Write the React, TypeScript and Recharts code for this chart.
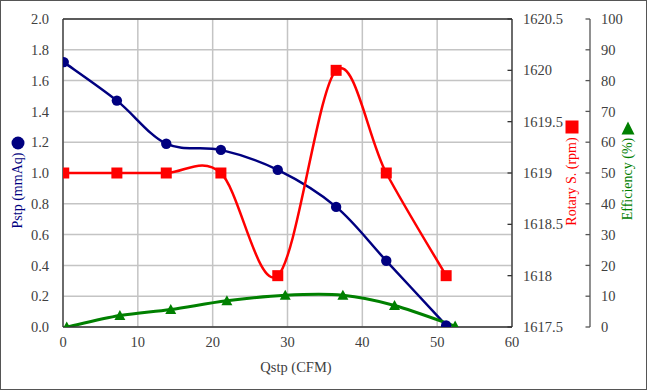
import React from 'react';
import { LineChart, Line, XAxis, YAxis, CartesianGrid, ReferenceLine } from 'recharts';

// ---- data ----
const pstpX = [0.1, 7.2, 13.8, 21.1, 28.7, 36.5, 43.2, 51.2];
const pstpY = [1.72, 1.47, 1.19, 1.15, 1.02, 0.78, 0.43, 0.01];
const rpmX = [0.1, 7.2, 13.8, 21.1, 28.7, 36.5, 43.2, 51.2];
const rpmY = [1619, 1619, 1619, 1619, 1618, 1620, 1619, 1618];
const effX = [0.5, 7.6, 14.4, 21.9, 29.7, 37.4, 44.3, 52.4];
const effY = [0, 3.7, 5.7, 8.5, 10.3, 10.3, 7.0, 0.3];

const xTicks = [0, 10, 20, 30, 40, 50, 60];
const pstpTicks = [0, 0.2, 0.4, 0.6, 0.8, 1.0, 1.2, 1.4, 1.6, 1.8, 2.0];
const rpmTicks = [1617.5, 1618, 1618.5, 1619, 1619.5, 1620, 1620.5];
const effTicks = [0, 10, 20, 30, 40, 50, 60, 70, 80, 90, 100];

const pstpData = pstpX.map((x, i) => ({ x, y: pstpY[i] }));
const rpmData = rpmX.map((x, i) => ({ x, y: rpmY[i] }));
const effData = effX.map((x, i) => ({ x, y: effY[i] }));

const NAVY = '#000080';
const RED = '#FF0000';
const GREEN = '#008000';
const FONT = 'Liberation Serif, Times New Roman, DejaVu Serif, serif';
const TICK_COLOR = '#404040';
const BORDER = '#333333';
const TXT: React.CSSProperties = { fontFamily: FONT };
const TICK_FS = 14.5;

// Excel-like smooth curve (Catmull-Rom as cubic bezier)
function smoothCurve(context: any) {
  let pts: number[][] = [];
  return {
    areaStart() {},
    areaEnd() {},
    lineStart() {
      pts = [];
    },
    lineEnd() {
      const n = pts.length;
      if (!n) return;
      context.moveTo(pts[0][0], pts[0][1]);
      for (let i = 0; i < n - 1; i++) {
        const p0 = pts[Math.max(0, i - 1)];
        const p1 = pts[i];
        const p2 = pts[i + 1];
        const p3 = pts[Math.min(n - 1, i + 2)];
        context.bezierCurveTo(
          p1[0] + (p2[0] - p0[0]) / 6,
          p1[1] + (p2[1] - p0[1]) / 6,
          p2[0] - (p3[0] - p1[0]) / 6,
          p2[1] - (p3[1] - p1[1]) / 6,
          p2[0],
          p2[1]
        );
      }
    },
    point(x: number, y: number) {
      pts.push([+x, +y]);
    },
  };
}

const CircleDot = (props: any) => {
  const { cx, cy, index } = props;
  if (cx == null || cy == null) return <g key={`c-${index}`} />;
  return <circle key={`c-${index}`} cx={cx} cy={cy} r={5.2} fill={NAVY} />;
};
const SquareDot = (props: any) => {
  const { cx, cy, index } = props;
  if (cx == null || cy == null) return <g key={`s-${index}`} />;
  return <rect key={`s-${index}`} x={cx - 5.5} y={cy - 5.5} width={11} height={11} fill={RED} />;
};
const TriDot = (props: any) => {
  const { cx, cy, index } = props;
  if (cx == null || cy == null) return <g key={`t-${index}`} />;
  return (
    <polygon
      key={`t-${index}`}
      points={`${cx},${cy - 5.5} ${cx - 5.5},${cy + 4.5} ${cx + 5.5},${cy + 4.5}`}
      fill={GREEN}
    />
  );
};

const BottomTick = (props: any) => {
  const { x, y, payload } = props;
  return (
    <text x={x} y={y} dy="0.71em" textAnchor="middle" fill={TICK_COLOR} style={TXT} fontSize={TICK_FS}>
      {String(payload.value)}
    </text>
  );
};

const LeftTick = (props: any) => {
  const { x, y, payload } = props;
  return (
    <text x={x} y={y} dy="0.355em" textAnchor="end" fill={TICK_COLOR} style={TXT} fontSize={TICK_FS}>
      {Number(payload.value).toFixed(1)}
    </text>
  );
};

const RightTick = (props: any) => {
  const { x, y, payload, dark } = props;
  return (
    <g>
      <line x1={x - 4.5} y1={y} x2={x} y2={y} stroke={dark ? BORDER : '#555'} strokeWidth={1.3} />
      <text x={x + 11} y={y} dy="0.355em" textAnchor="start" fill={TICK_COLOR} style={TXT} fontSize={TICK_FS}>
        {String(payload.value)}
      </text>
    </g>
  );
};

const LeftLabel = () => (
  <g>
    <circle cx={18} cy={143} r={6.5} fill={NAVY} />
    <text
      x={22}
      y={190.5}
      transform="rotate(-90, 22, 190.5)"
      textAnchor="middle"
      fill={NAVY}
      style={TXT}
      fontSize={14}
    >
      Pstp (mmAq)
    </text>
  </g>
);

const RpmLabel = () => (
  <g>
    <rect x={565.5} y={120.5} width={13} height={13} fill={RED} />
    <text
      x={575.5}
      y={181.5}
      transform="rotate(-90, 575.5, 181.5)"
      textAnchor="middle"
      fill={RED}
      style={TXT}
      fontSize={14}
    >
      Rotary S. (rpm)
    </text>
  </g>
);

const EffLabel = () => (
  <g>
    <polygon points="628,121.5 621.5,134.5 634.5,134.5" fill={GREEN} />
    <text
      x={631.5}
      y={179}
      transform="rotate(-90, 631.5, 179)"
      textAnchor="middle"
      fill={GREEN}
      style={TXT}
      fontSize={14}
    >
      Efficiency (%)
    </text>
  </g>
);

const XLabel = () => (
  <text x={296} y={372} textAnchor="middle" fill={TICK_COLOR} style={TXT} fontSize={14.5}>
    Qstp (CFM)
  </text>
);

export default function App() {
  return (
    <div
      style={{
        position: 'absolute',
        left: 0,
        top: 0,
        width: 647,
        height: 390,
        background: '#fff',
        fontFamily: FONT,
      }}
    >
      <LineChart width={647} height={390} margin={{ top: 19, right: 0, bottom: 0, left: 0 }} style={TXT}>
        <CartesianGrid yAxisId="left" stroke="#c4c4c4" strokeWidth={1.5} />
        <XAxis
          dataKey="x"
          type="number"
          domain={[0, 60]}
          ticks={xTicks}
          allowDataOverflow
          height={63}
          tickLine={false}
          tickSize={6}
          tickMargin={4}
          axisLine={{ stroke: BORDER, strokeWidth: 1.3 }}
          tick={<BottomTick />}
          label={{ content: () => <XLabel /> }}
        />
        <YAxis
          yAxisId="left"
          type="number"
          domain={[0, 2]}
          ticks={pstpTicks}
          allowDataOverflow
          width={63}
          tickLine={false}
          tickSize={6}
          tickMargin={8}
          axisLine={{ stroke: BORDER, strokeWidth: 1.3 }}
          tick={<LeftTick />}
          label={{ content: () => <LeftLabel /> }}
        />
        <YAxis
          yAxisId="b_eff"
          orientation="right"
          type="number"
          domain={[0, 100]}
          ticks={effTicks}
          allowDataOverflow
          width={57}
          tickLine={false}
          tickSize={0}
          tickMargin={0}
          axisLine={{ stroke: '#555', strokeWidth: 1.3 }}
          tick={<RightTick />}
          label={{ content: () => <EffLabel /> }}
        />
        <YAxis
          yAxisId="a_rpm"
          orientation="right"
          type="number"
          domain={[1617.5, 1620.5]}
          ticks={rpmTicks}
          allowDataOverflow
          width={78}
          tickLine={false}
          tickSize={0}
          tickMargin={0}
          axisLine={{ stroke: BORDER, strokeWidth: 1.3 }}
          tick={<RightTick dark />}
          label={{ content: () => <RpmLabel /> }}
        />
        <ReferenceLine yAxisId="left" y={2} stroke={BORDER} strokeWidth={1.3} />
        <Line
          yAxisId="left"
          data={pstpData}
          dataKey="y"
          type={smoothCurve as any}
          stroke={NAVY}
          strokeWidth={2.5}
          dot={CircleDot}
          activeDot={false}
          isAnimationActive={false}
        />
        <Line
          yAxisId="a_rpm"
          data={rpmData}
          dataKey="y"
          type={smoothCurve as any}
          stroke={RED}
          strokeWidth={2.5}
          dot={SquareDot}
          activeDot={false}
          isAnimationActive={false}
        />
        <Line
          yAxisId="b_eff"
          data={effData}
          dataKey="y"
          type={smoothCurve as any}
          stroke={GREEN}
          strokeWidth={3}
          dot={TriDot}
          activeDot={false}
          isAnimationActive={false}
        />
      </LineChart>
      <div
        style={{
          position: 'absolute',
          left: 0,
          top: 0,
          width: 647,
          height: 390,
          boxSizing: 'border-box',
          border: '1px solid #555',
          pointerEvents: 'none',
        }}
      />
    </div>
  );
}
